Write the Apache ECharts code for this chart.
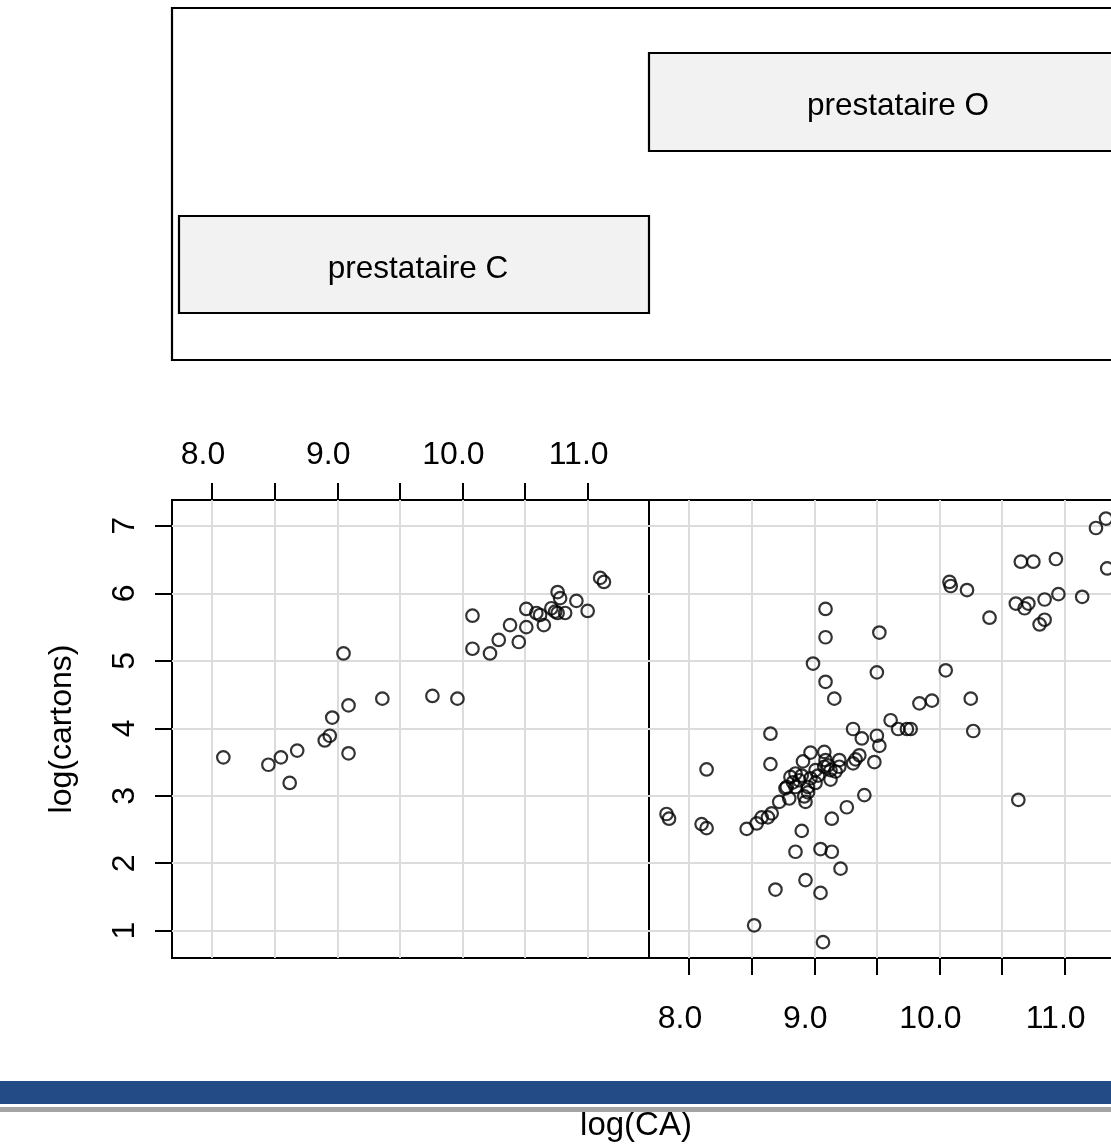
<!DOCTYPE html>
<html>
<head>
<meta charset="utf-8">
<script src="https://cdn.jsdelivr.net/npm/echarts@6/dist/echarts.min.js"></script>
<style>
html, body { margin: 0; padding: 0; background: #ffffff; }
#chart { width: 1111px; height: 1145px; }
</style>
</head>
<body>
<div id="chart"></div>
<script>
// Panel titles (strip labels)
const panelNames = ['prestataire C', 'prestataire O'];

// Axis ticks and labels
const xTicks = [8, 8.5, 9, 9.5, 10, 10.5, 11];
const xTickLabels = [8, 9, 10, 11];
const yTicks = [1, 2, 3, 4, 5, 6, 7];

// prestataire C : log(CA) and log(cartons)
const caC = [8.09, 8.45, 8.55, 8.62, 8.68, 8.90, 8.94, 8.96, 9.05, 9.09, 9.09, 9.36, 9.76, 9.96,
  10.08, 10.08, 10.22, 10.29, 10.38, 10.45, 10.51, 10.51, 10.59, 10.62, 10.65, 10.71, 10.74,
  10.76, 10.76, 10.78, 10.82, 10.91, 11.00, 11.10, 11.13];
const cartonsC = [3.57, 3.46, 3.57, 3.19, 3.67, 3.82, 3.89, 4.16, 5.11, 4.34, 3.63, 4.44, 4.48, 4.44,
  5.67, 5.18, 5.11, 5.31, 5.53, 5.28, 5.77, 5.50, 5.71, 5.68, 5.53, 5.78, 5.73,
  5.71, 6.02, 5.93, 5.71, 5.89, 5.74, 6.23, 6.17];

// prestataire O : log(CA) and log(cartons)
const caO = [7.82, 7.84, 8.10, 8.14, 8.14, 8.46, 8.52, 8.54, 8.58, 8.63, 8.66, 8.65, 8.65, 8.69,
  8.72, 8.77, 8.78, 8.80, 8.81, 8.85, 8.85, 8.85, 8.88, 8.90, 8.91, 8.92, 8.93, 8.93, 8.95,
  8.97, 8.97, 8.99, 9.01, 9.01, 9.05, 9.05, 9.07, 9.08, 9.08, 9.09, 9.09, 9.09, 9.09, 9.13,
  9.13, 9.14, 9.14, 9.16, 9.17, 9.20, 9.20, 9.21, 9.26, 9.31, 9.31, 9.33, 9.36, 9.38, 9.40,
  9.48, 9.50, 9.50, 9.52, 9.52, 9.61, 9.67, 9.74, 9.77, 9.84, 9.94, 10.05, 10.08, 10.09,
  10.22, 10.25, 10.27, 10.40, 10.61, 10.63, 10.65, 10.68, 10.71, 10.75, 10.80, 10.84, 10.84,
  10.93, 10.95, 11.14, 11.25, 11.33, 11.34, 8.83, 8.90, 8.95, 9.03, 9.11];
const cartonsO = [2.73, 2.66, 2.58, 2.52, 3.39, 2.51, 1.08, 2.59, 2.68, 2.68, 2.74, 3.47, 3.92, 1.61,
  2.91, 3.11, 3.13, 2.96, 3.28, 3.33, 3.13, 2.17, 3.23, 2.48, 3.51, 2.99, 2.91, 1.75, 3.13,
  3.26, 3.64, 4.96, 3.19, 3.38, 1.56, 2.21, 0.83, 3.65, 3.43, 3.53, 4.69, 5.35, 5.77, 3.38,
  3.24, 2.17, 2.66, 4.44, 3.36, 3.43, 3.53, 1.92, 2.83, 3.48, 3.99, 3.54, 3.60, 3.85, 3.01,
  3.50, 3.89, 4.83, 3.74, 5.42, 4.12, 3.99, 3.99, 3.99, 4.37, 4.41, 4.86, 6.17, 6.11,
  6.05, 4.44, 3.96, 5.64, 5.85, 2.94, 6.47, 5.78, 5.85, 6.47, 5.54, 5.61, 5.91,
  6.51, 5.99, 5.95, 6.97, 7.11, 6.37, 3.20, 3.30, 3.05, 3.30, 3.45];

const xLabel = 'log(CA)';
const yLabel = 'log(cartons)';

const FONT = "'Liberation Sans', Arial, Helvetica, sans-serif";
const X_MIN = 7.68, X_MAX = 11.49;
const Y_MIN = 0.595, Y_MAX = 7.385;

const zip = (xs, ys) => xs.map((x, i) => [x, ys[i]]);

const gridLine = { show: true, lineStyle: { color: '#dcdcdc', width: 2 } };
const tickStyle = { color: '#000', width: 2 };

function xAxisFor(gridIndex, position, margin) {
  return {
    type: 'value', gridIndex, position, min: X_MIN, max: X_MAX,
    axisLine: { show: false },
    axisTick: { show: true, customValues: xTicks, length: 17, lineStyle: tickStyle },
    axisLabel: {
      show: true, customValues: xTickLabels,
      formatter: v => Number(v).toFixed(1),
      fontFamily: FONT, fontSize: 32, color: '#000', margin, padding: [0, 18, 0, 0]
    },
    splitLine: gridLine
  };
}

const chart = echarts.init(document.getElementById('chart'), null, { renderer: 'canvas' });

const gridBase = { top: 500, width: 477, height: 458, show: true, borderColor: '#000',
  borderWidth: 2, backgroundColor: 'transparent', containLabel: false, outerBoundsMode: 'none' };

const circleStyle = { color: 'rgba(0,0,0,0)', borderColor: '#000', borderWidth: 2.2 };
const stripFont = "31.5px 'Liberation Sans', Arial, sans-serif";

chart.setOption({
  animation: false,
  backgroundColor: '#ffffff',
  textStyle: { fontFamily: FONT },
  grid: [
    Object.assign({ left: 172 }, gridBase),
    Object.assign({ left: 649 }, gridBase)
  ],
  xAxis: [
    xAxisFor(0, 'top', 29),
    xAxisFor(1, 'bottom', 45)
  ],
  yAxis: [
    {
      type: 'value', gridIndex: 0, position: 'left', min: Y_MIN, max: Y_MAX,
      axisLine: { show: false },
      axisTick: { show: true, customValues: yTicks, length: 17, lineStyle: tickStyle },
      axisLabel: { customValues: yTicks, rotate: 90, fontFamily: FONT, fontSize: 32,
        color: '#000', margin: 31 },
      splitLine: gridLine,
      name: yLabel, nameLocation: 'middle', nameGap: 94,
      nameTextStyle: { fontFamily: FONT, fontSize: 32, color: '#000' }
    },
    {
      type: 'value', gridIndex: 1, position: 'right', min: Y_MIN, max: Y_MAX,
      axisLine: { show: false },
      axisTick: { show: false, customValues: yTicks },
      axisLabel: { show: false, customValues: yTicks },
      splitLine: gridLine
    }
  ],
  series: [
    { type: 'scatter', name: panelNames[0], xAxisIndex: 0, yAxisIndex: 0,
      data: zip(caC, cartonsC), symbol: 'circle', symbolSize: 12.5, itemStyle: circleStyle },
    { type: 'scatter', name: panelNames[1], xAxisIndex: 1, yAxisIndex: 1,
      data: zip(caO, cartonsO), symbol: 'circle', symbolSize: 12.5, itemStyle: circleStyle }
  ],
  graphic: [
    // strip area frame
    { type: 'rect', shape: { x: 172, y: 8, width: 980, height: 352 },
      style: { fill: 'none', stroke: '#000', lineWidth: 2.2 } },
    // strip for C
    { type: 'rect', shape: { x: 179, y: 216, width: 470, height: 97 },
      style: { fill: '#f2f2f2', stroke: '#000', lineWidth: 2.2 } },
    { type: 'text', x: 418, y: 269,
      style: { text: panelNames[0], font: stripFont,
        fill: '#000', textAlign: 'center', textVerticalAlign: 'middle' } },
    // strip for O
    { type: 'rect', shape: { x: 649, y: 53, width: 500, height: 98 },
      style: { fill: '#f2f2f2', stroke: '#000', lineWidth: 2.2 } },
    { type: 'text', x: 898, y: 106,
      style: { text: panelNames[1], font: stripFont,
        fill: '#000', textAlign: 'center', textVerticalAlign: 'middle' } },
    // x-axis title under the banner
    { type: 'text', x: 636, y: 1126, z: 10,
      style: { text: xLabel, font: "33px 'Liberation Sans', Arial, sans-serif",
        fill: '#000', textAlign: 'center', textVerticalAlign: 'middle' } },
    // banner
    { type: 'rect', z: 20, shape: { x: 0, y: 1081, width: 1111, height: 23 },
      style: { fill: '#234B85' } },
    { type: 'rect', z: 20, shape: { x: 0, y: 1107, width: 1111, height: 5 },
      style: { fill: '#a4a4a4' } }
  ]
});
</script>
</body>
</html>
